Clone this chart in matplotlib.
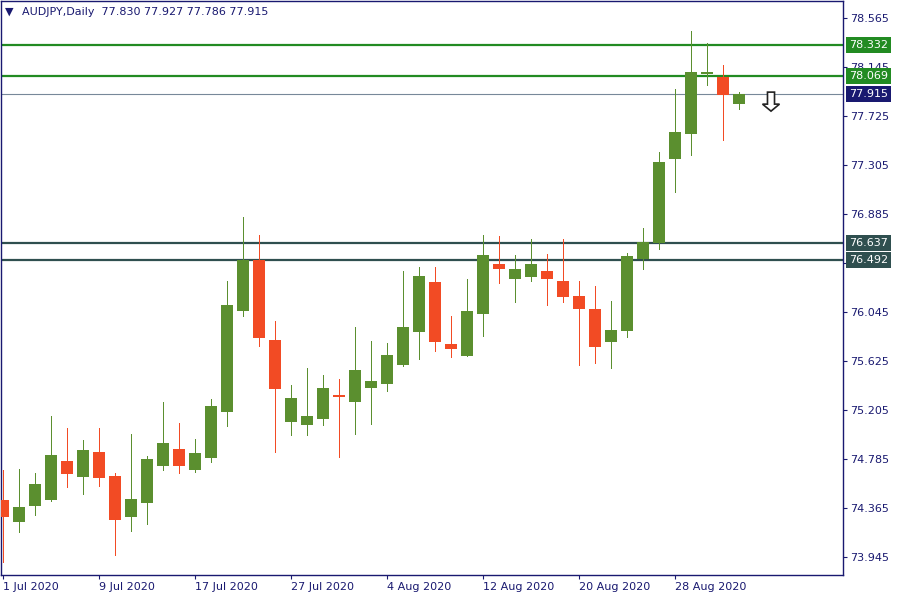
import numpy as np
import pandas as pd
import matplotlib
matplotlib.use('Agg')
import matplotlib.pyplot as plt
from matplotlib.patches import FancyArrow

# daily OHLC, AUDJPY 1 Jul - 3 Sep 2020
dates = pd.bdate_range('2020-07-01', '2020-09-03')
opens = [74.434, 74.248, 74.385, 74.434, 74.768, 74.633, 74.845, 74.639, 74.291, 74.411,
         74.728, 74.871, 74.693, 74.796, 75.191, 76.056, 76.491, 75.805, 75.105, 75.079,
         75.131, 75.337, 75.276, 75.396, 75.431, 75.591, 75.874, 76.302, 75.771, 75.668,
         76.028, 76.457, 76.328, 76.345, 76.397, 76.311, 76.182, 76.071, 75.788, 75.882,
         76.499, 76.637, 77.356, 77.573, 78.088, 78.059, 77.830]
highs = [74.691, 74.699, 74.665, 75.154, 75.051, 74.948, 75.051, 74.665, 74.999, 74.811,
         75.274, 75.094, 74.957, 75.299, 76.311, 76.859, 76.705, 75.968, 75.419, 75.565,
         75.505, 75.471, 75.917, 75.797, 75.779, 76.397, 76.431, 76.431, 76.011, 76.328,
         76.705, 76.697, 76.534, 76.671, 76.542, 76.671, 76.311, 76.268, 76.139, 76.551,
         76.765, 77.416, 77.956, 78.454, 78.351, 78.162, 77.927]
lows = [73.905, 74.162, 74.305, 74.425, 74.545, 74.488, 74.556, 73.965, 74.171, 74.231,
        74.693, 74.668, 74.676, 74.762, 75.071, 76.013, 75.756, 74.848, 74.993, 74.993,
        75.079, 74.805, 75.002, 75.088, 75.371, 75.585, 75.642, 75.711, 75.659, 75.665,
        75.839, 76.294, 76.131, 76.311, 76.105, 76.131, 75.591, 75.608, 75.565, 75.831,
        76.414, 76.585, 77.074, 77.393, 77.993, 77.522, 77.786]
closes = [74.291, 74.374, 74.571, 74.819, 74.659, 74.862, 74.625, 74.265, 74.442, 74.785,
          74.922, 74.728, 74.837, 75.239, 76.105, 76.491, 75.825, 75.388, 75.308, 75.154,
          75.394, 75.320, 75.548, 75.454, 75.677, 75.917, 76.354, 75.788, 75.728, 76.054,
          76.534, 76.414, 76.414, 76.457, 76.328, 76.174, 76.071, 75.745, 75.891, 76.525,
          76.645, 77.331, 77.588, 78.102, 78.105, 77.908, 77.915]

# horizontal levels
levels = [78.332, 78.069, 76.637, 76.492]
level_colors = ['#228B22', '#228B22', '#2F4F4F', '#2F4F4F']
bid = 77.915

yticks = [73.945, 74.365, 74.785, 75.205, 75.625, 76.045, 76.465, 76.885, 77.305, 77.725, 78.145, 78.565]
hidden_ticks = [76.465]  # covered by the 76.492 label in the terminal
xtick_pos = [0, 6, 12, 18, 24, 30, 36, 42]
xtick_labels = ['1 Jul 2020', '9 Jul 2020', '17 Jul 2020', '27 Jul 2020', '4 Aug 2020',
                '12 Aug 2020', '20 Aug 2020', '28 Aug 2020']

arrow_x = 48
arrow_top = 77.93

navy = '#191970'
up_col = '#5B8F2F'
dn_col = '#F24B24'

o = np.array(opens); h = np.array(highs); l = np.array(lows); c = np.array(closes)
x = np.arange(len(dates))
cols = np.where(c >= o, up_col, dn_col)

fig = plt.figure(figsize=(9, 6), dpi=100)
ax = fig.add_axes([1/900, 25/600, 842/900, 574/600])

ax.vlines(x, l, h, colors=cols, linewidth=0.72, antialiased=False, zorder=2)
ax.bar(x, np.abs(c - o), bottom=np.minimum(o, c), width=0.69, color=cols, linewidth=0, zorder=3)

for lv, lc in zip(levels, level_colors):
    ax.axhline(lv, color=lc, linewidth=1.6, zorder=1)
ax.axhline(bid, color='#778899', linewidth=0.8, zorder=1)

ax.set_xlim(-0.125, 52.5)
ax.set_ylim(73.791, 78.711)

ax.yaxis.tick_right()
ax.set_yticks(yticks)
ax.set_yticklabels(['' if v in hidden_ticks else '%.3f' % v for v in yticks])
ax.set_xticks(xtick_pos)
ax.set_xticklabels(xtick_labels, ha='left')
ax.tick_params(axis='both', direction='out', length=3, width=0.8, color=navy,
               labelcolor=navy, labelsize=8, pad=2)
for s in ax.spines.values():
    s.set_color(navy)
    s.set_linewidth(1)

# price labels on the right
tr = ax.get_yaxis_transform()
for lv, lc in zip(levels + [bid], level_colors + [navy]):
    ax.text(1.0 + 6/842, lv, '%.3f' % lv, transform=tr, color='white', fontsize=8,
            va='center', ha='left', clip_on=False, zorder=10,
            bbox=dict(boxstyle='square,pad=0.28', fc=lc, ec='none'))

# hollow sell arrow
arr = FancyArrow(arrow_x, arrow_top, 0, -0.163, width=0.44, head_width=1.06,
                 head_length=0.06, length_includes_head=True,
                 fc='white', ec='#222222', lw=1.2, zorder=5)
ax.add_patch(arr)

# header
fig.text(5/900, 1 - 12/600, '\u25BC', fontsize=8, color=navy, va='center', ha='left')
fig.text(22/900, 1 - 12/600, 'AUDJPY,Daily  77.830 77.927 77.786 77.915',
         fontsize=8, color=navy, va='center', ha='left')

fig.savefig('out.png', dpi=100)
